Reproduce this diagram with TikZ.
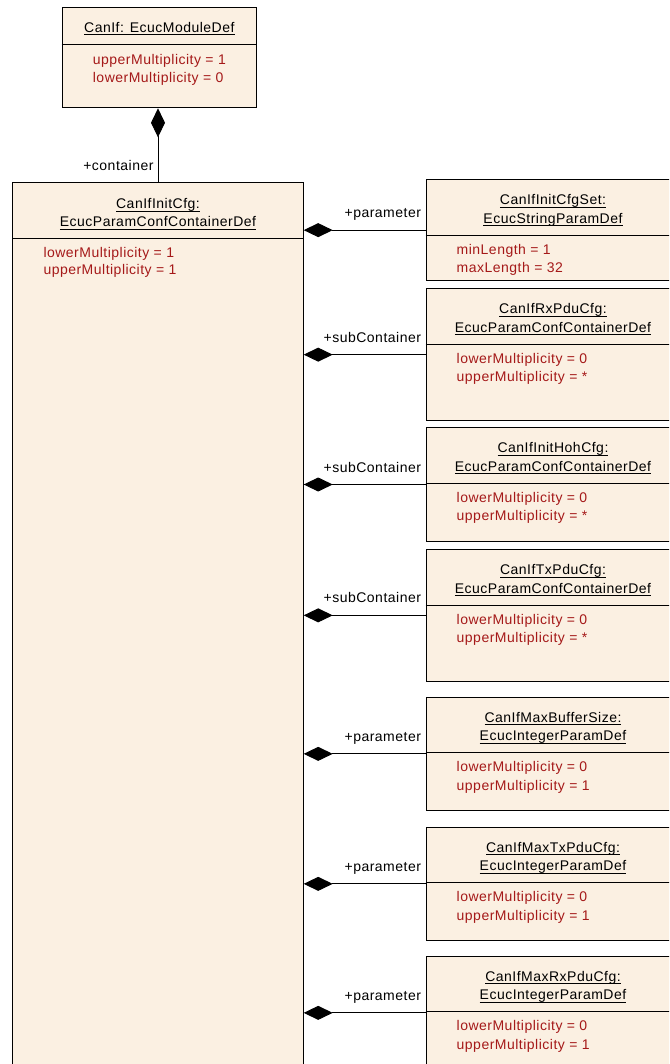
\documentclass[tikz,border=0pt]{standalone}
\usepackage{fontspec}
\setmainfont{Liberation Sans}[LetterSpace=3.5]
\usetikzlibrary{calc}
\usetikzlibrary{arrows.meta}
\usetikzlibrary{positioning}
\definecolor{clsfill}{RGB}{251,240,226}
\definecolor{attred}{RGB}{165,25,25}
\tikzset{cls/.style={draw=black,fill=clsfill,line width=1pt,inner sep=0pt,anchor=north west}}
\tikzset{ttl/.style={align=center,anchor=base,inner sep=0pt}}
\tikzset{att/.style={text=attred,anchor=base west,inner sep=0pt}}
\tikzset{role/.style={anchor=base east,inner sep=0pt}}
\tikzset{owns/.style={line width=1pt,{Diamond[length=29pt,width=14pt]}-}}
\newsavebox\ulbox
\newcommand{\uln}[1]{\sbox\ulbox{#1}\rlap{\rule[-3pt]{\wd\ulbox}{1pt}}\usebox\ulbox}

\begin{document}
\begin{tikzpicture}[x=1pt,y=-1pt,font=\fontsize{14}{18}\selectfont]
\useasboundingbox (0,0) rectangle (669,1064);
\clip (0,0) rectangle (669,1064);

% module definition
\node[cls,minimum width=194.3pt,minimum height=100pt] (Module) at (61.7,7.3) {};
\draw[line width=1pt] ($(Module.north west)+(0,37)$) -- ($(Module.north east)+(0,37)$);
\node[ttl] (Module-t1) at ($(Module.north)+(0,25)$) {\uln{CanIf: EcucModuleDef}};
\node[att] (Module-a1) at ($(Module.north west)+(31,57)$) {upperMultiplicity = 1};
\node[att] (Module-a2) at ($(Module-a1.base west)+(0,18)$) {lowerMultiplicity = 0};

% init container
\node[cls,minimum width=290.4pt,minimum height=900pt] (InitCfg) at (12.3,182.3) {};
\draw[line width=1pt] ($(InitCfg.north west)+(0,56.7)$) -- ($(InitCfg.north east)+(0,56.7)$);
\node[ttl] (InitCfg-t1) at ($(InitCfg.north)+(0,26.5)$) {\uln{CanIfInitCfg:}};
\node[ttl] (InitCfg-t2) at ($(InitCfg.north)+(0,44.3)$) {\uln{EcucParamConfContainerDef}};
\node[att] (InitCfg-a1) at ($(InitCfg.north west)+(31,75)$) {lowerMultiplicity = 1};
\node[att] (InitCfg-a2) at ($(InitCfg-a1.base west)+(0,17.5)$) {upperMultiplicity = 1};

\draw[owns] (InitCfg.north |- Module.south) -- (InitCfg.north)
	node[role,xshift=-4pt,yshift=11.5pt] (InitCfg-r) {+container};

% children
\foreach \nm/\ty/\h/\rl/\ta/\tb/\aa/\ab in {
	InitCfgSet/179.3/100.7/parameter/CanIfInitCfgSet:/EcucStringParamDef/minLength = 1/maxLength = 32,
	RxPduCfg/288.3/131.7/subContainer/CanIfRxPduCfg:/EcucParamConfContainerDef/lowerMultiplicity = 0/upperMultiplicity = *,
	InitHohCfg/427.3/113.4/subContainer/CanIfInitHohCfg:/EcucParamConfContainerDef/lowerMultiplicity = 0/upperMultiplicity = *,
	TxPduCfg/549/131.7/subContainer/CanIfTxPduCfg:/EcucParamConfContainerDef/lowerMultiplicity = 0/upperMultiplicity = *,
	MaxBufferSize/696.7/113.3/parameter/CanIfMaxBufferSize:/EcucIntegerParamDef/lowerMultiplicity = 0/upperMultiplicity = 1,
	MaxTxPduCfg/826.7/113.3/parameter/CanIfMaxTxPduCfg:/EcucIntegerParamDef/lowerMultiplicity = 0/upperMultiplicity = 1,
	MaxRxPduCfg/955.7/113.3/parameter/CanIfMaxRxPduCfg:/EcucIntegerParamDef/lowerMultiplicity = 0/upperMultiplicity = 1}
{
	\node[cls,minimum width=254pt,minimum height=\h pt] (\nm) at (425.5,\ty) {};
	\draw[line width=1pt] ($(\nm.north west)+(0,56)$) -- ($(\nm.north east)+(0,56)$);
	\node[ttl] (\nm-t1) at ($(\nm.north)+(0,25.5)$) {\uln{\ta}};
	\node[ttl] (\nm-t2) at ($(\nm.north)+(0,44)$) {\uln{\tb}};
	\node[att] (\nm-a1) at ($(\nm.north west)+(31,75)$) {\aa};
	\node[att] (\nm-a2) at ($(\nm-a1.base west)+(0,18.5)$) {\ab};
	\draw[owns] (InitCfg.east |- \nm.west) -- (\nm.west)
		node[role,xshift=-4pt,yshift=12.5pt] (\nm-r) {+\rl};
}
\end{tikzpicture}
\end{document}
